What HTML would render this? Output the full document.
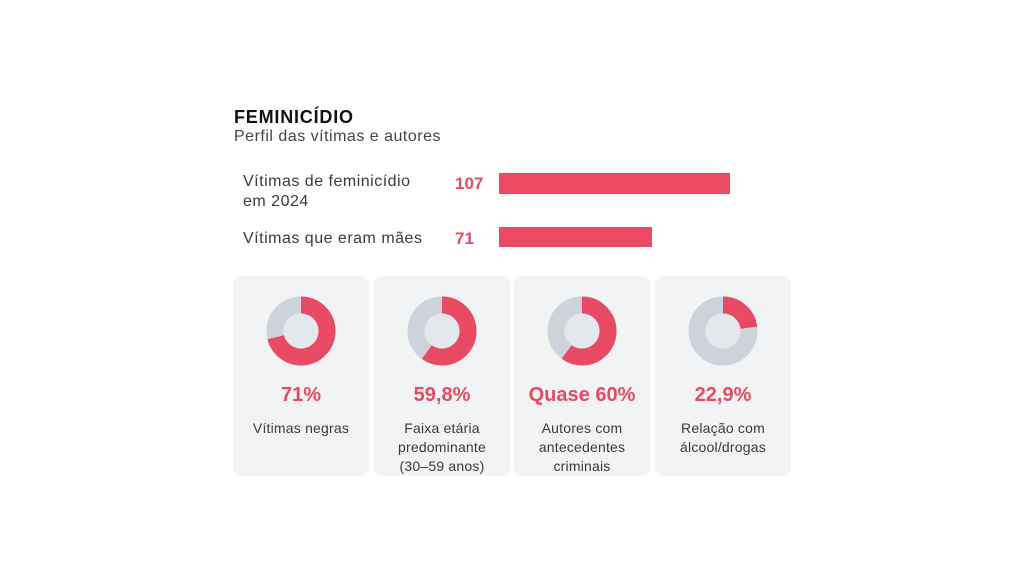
<!DOCTYPE html>
<html><head><meta charset="utf-8"><style>
body{margin:0;width:1024px;height:576px;background:#fff;font-family:"Liberation Sans","DejaVu Sans",sans-serif;position:relative;overflow:hidden;color:#333}
.a{position:absolute;white-space:nowrap}
.card{position:absolute;top:276px;width:136px;height:200px;background:#f2f3f5;border-radius:8px;text-align:center}
.card svg{position:absolute;left:33px;top:20px}
.p{position:absolute;top:108px;left:0;width:100%;font-size:20px;font-weight:bold;color:#e84a63}
.l{position:absolute;top:143px;left:0;width:100%;font-size:14px;line-height:19px;color:#3a3a3a;letter-spacing:0.2px}
</style></head><body>
<div class="a" style="left:234px;top:107px;font-size:18px;font-weight:bold;color:#111;letter-spacing:0.8px">FEMINICÍDIO</div>
<div class="a" style="left:234px;top:128px;font-size:16px;color:#444;letter-spacing:0.5px">Perfil das vítimas e autores</div>
<div class="a" style="left:243px;top:172px;font-size:16px;line-height:20px;color:#3a3a3a;letter-spacing:0.5px">Vítimas de feminicídio<br>em 2024</div>
<div class="a" style="left:243px;top:230px;font-size:16px;color:#3a3a3a;letter-spacing:0.5px">Vítimas que eram mães</div>
<div class="a" style="left:455px;top:174px;font-size:17px;font-weight:bold;color:#e84a63">107</div>
<div class="a" style="left:455px;top:229px;font-size:17px;font-weight:bold;color:#e84a63">71</div>
<div class="a" style="left:499px;top:173px;width:231px;height:21px;background:#ec4a63"></div>
<div class="a" style="left:499px;top:227px;width:153px;height:20px;background:#ec4a63"></div>

<div class="card" style="left:233px">
<svg width="70" height="70"><circle cx="35" cy="35" r="26" fill="none" stroke="#cdd3da" stroke-width="17"/><circle cx="35" cy="35" r="26" fill="none" stroke="#e84a63" stroke-width="17" stroke-dasharray="116 200" transform="rotate(-90 35 35)"/><circle cx="35" cy="35" r="17.5" fill="#e4e7eb"/></svg>
<div class="p">71%</div><div class="l">Vítimas negras</div></div>
<div class="card" style="left:374px">
<svg width="70" height="70"><circle cx="35" cy="35" r="26" fill="none" stroke="#cdd3da" stroke-width="17"/><circle cx="35" cy="35" r="26" fill="none" stroke="#e84a63" stroke-width="17" stroke-dasharray="97.7 200" transform="rotate(-90 35 35)"/><circle cx="35" cy="35" r="17.5" fill="#e4e7eb"/></svg>
<div class="p">59,8%</div><div class="l">Faixa etária<br>predominante<br>(30–59 anos)</div></div>
<div class="card" style="left:514px">
<svg width="70" height="70"><circle cx="35" cy="35" r="26" fill="none" stroke="#cdd3da" stroke-width="17"/><circle cx="35" cy="35" r="26" fill="none" stroke="#e84a63" stroke-width="17" stroke-dasharray="98 200" transform="rotate(-90 35 35)"/><circle cx="35" cy="35" r="17.5" fill="#e4e7eb"/></svg>
<div class="p">Quase 60%</div><div class="l">Autores com<br>antecedentes<br>criminais</div></div>
<div class="card" style="left:655px">
<svg width="70" height="70"><circle cx="35" cy="35" r="26" fill="none" stroke="#cdd3da" stroke-width="17"/><circle cx="35" cy="35" r="26" fill="none" stroke="#e84a63" stroke-width="17" stroke-dasharray="37.4 200" transform="rotate(-90 35 35)"/><circle cx="35" cy="35" r="17.5" fill="#e4e7eb"/></svg>
<div class="p">22,9%</div><div class="l">Relação com<br>álcool/drogas</div></div>
</body></html>
